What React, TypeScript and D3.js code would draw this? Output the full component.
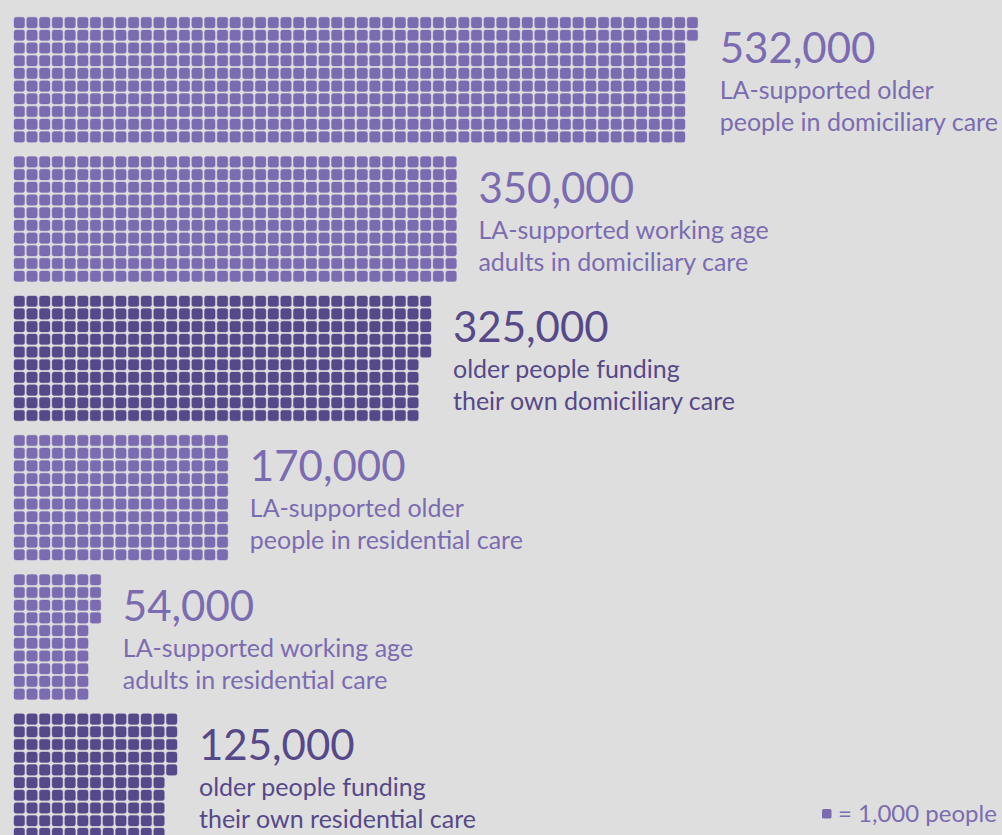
import React, { useEffect, useRef } from 'react';
import * as d3 from 'd3';

// headline numbers
const groupValues = [532000, 350000, 325000, 170000, 54000, 125000];
// squares drawn in each block (one square = 1,000 people)
const groupSquares = [532, 350, 325, 170, 64, 125];
const groupFunding = ['la', 'la', 'self', 'la', 'la', 'self'];
const labelFirstLines = [
    'LA-supported older',
    'LA-supported working age',
    'older people funding',
    'LA-supported older',
    'LA-supported working age',
    'older people funding',
];
const labelSecondLines = [
    'people in domiciliary care',
    'adults in domiciliary care',
    'their own domiciliary care',
    'people in residential care',
    'adults in residential care',
    'their own residential care',
];
const fundingKeys = ['la', 'self'];
const legendText = '= 1,000 people';

const fundingColors = ['#7b6cb1', '#564989'];

const WIDTH = 1002;
const HEIGHT = 835;
const ROWS = 10;
const PITCH = 12.7;
const CELL = 10.6;
const FONT = 'Lato, "Open Sans", sans-serif';

const App: React.FC = () => {
    const svgRef = useRef<SVGSVGElement | null>(null);

    useEffect(() => {
        if (!svgRef.current) return;
        const svg = d3.select(svgRef.current);
        svg.selectAll('*').remove();

        const color = d3.scaleOrdinal<string, string>().domain(fundingKeys).range(fundingColors);
        const fmt = d3.format(',');

        // block index -> top of block
        const blockY = d3.scaleLinear().domain([0, 1]).range([17.3, 156.6]);
        // column index -> x, row index -> y offset (columns fill top to bottom)
        const colX = d3.scaleLinear().domain([0, 1]).range([14, 14 + PITCH]);
        const rowY = d3.scaleLinear().domain([0, 1]).range([0, PITCH]);

        svg.append('rect')
            .attr('width', WIDTH)
            .attr('height', HEIGHT)
            .attr('fill', '#dedede');

        groupValues.forEach((value, i) => {
            const n = groupSquares[i];
            const cols = Math.ceil(n / ROWS);
            const top = blockY(i);
            const c = color(groupFunding[i]);
            const g = svg.append('g').attr('transform', `translate(0,${top})`);

            g.selectAll('rect')
                .data(d3.range(n))
                .enter()
                .append('rect')
                .attr('x', (d) => colX(Math.floor(d / ROWS)))
                .attr('y', (d) => rowY(d % ROWS))
                .attr('width', CELL)
                .attr('height', CELL)
                .attr('rx', 2)
                .attr('fill', c)
                .attr('stroke', c)
                .attr('stroke-opacity', 0.35)
                .attr('stroke-width', 1);

            const tx = colX(cols) - (PITCH - CELL) + 22;
            g.append('text')
                .attr('x', tx)
                .attr('y', 46)
                .attr('font-family', FONT)
                .attr('font-size', 42)
                .attr('fill', c)
                .text(fmt(value));
            g.append('text')
                .attr('x', tx)
                .attr('y', 82)
                .attr('font-family', FONT)
                .attr('font-size', 25)
                .attr('fill', c)
                .text(labelFirstLines[i]);
            g.append('text')
                .attr('x', tx)
                .attr('y', 114)
                .attr('font-family', FONT)
                .attr('font-size', 25)
                .attr('fill', c)
                .text(labelSecondLines[i]);
        });

        // legend
        const legend = svg.append('g').attr('transform', 'translate(822,809)');
        legend.append('rect')
            .attr('width', 9.5)
            .attr('height', 9.5)
            .attr('rx', 1.5)
            .attr('fill', fundingColors[0]);
        legend.append('text')
            .attr('x', 16)
            .attr('y', 13)
            .attr('font-family', FONT)
            .attr('font-size', 24)
            .attr('fill', fundingColors[0])
            .text(legendText);
    }, []);

    return (
        <svg
            ref={svgRef}
            width={WIDTH}
            height={HEIGHT}
            style={{ position: 'absolute', left: 0, top: 0, display: 'block' }}
        ></svg>
    );
};

export default App;
